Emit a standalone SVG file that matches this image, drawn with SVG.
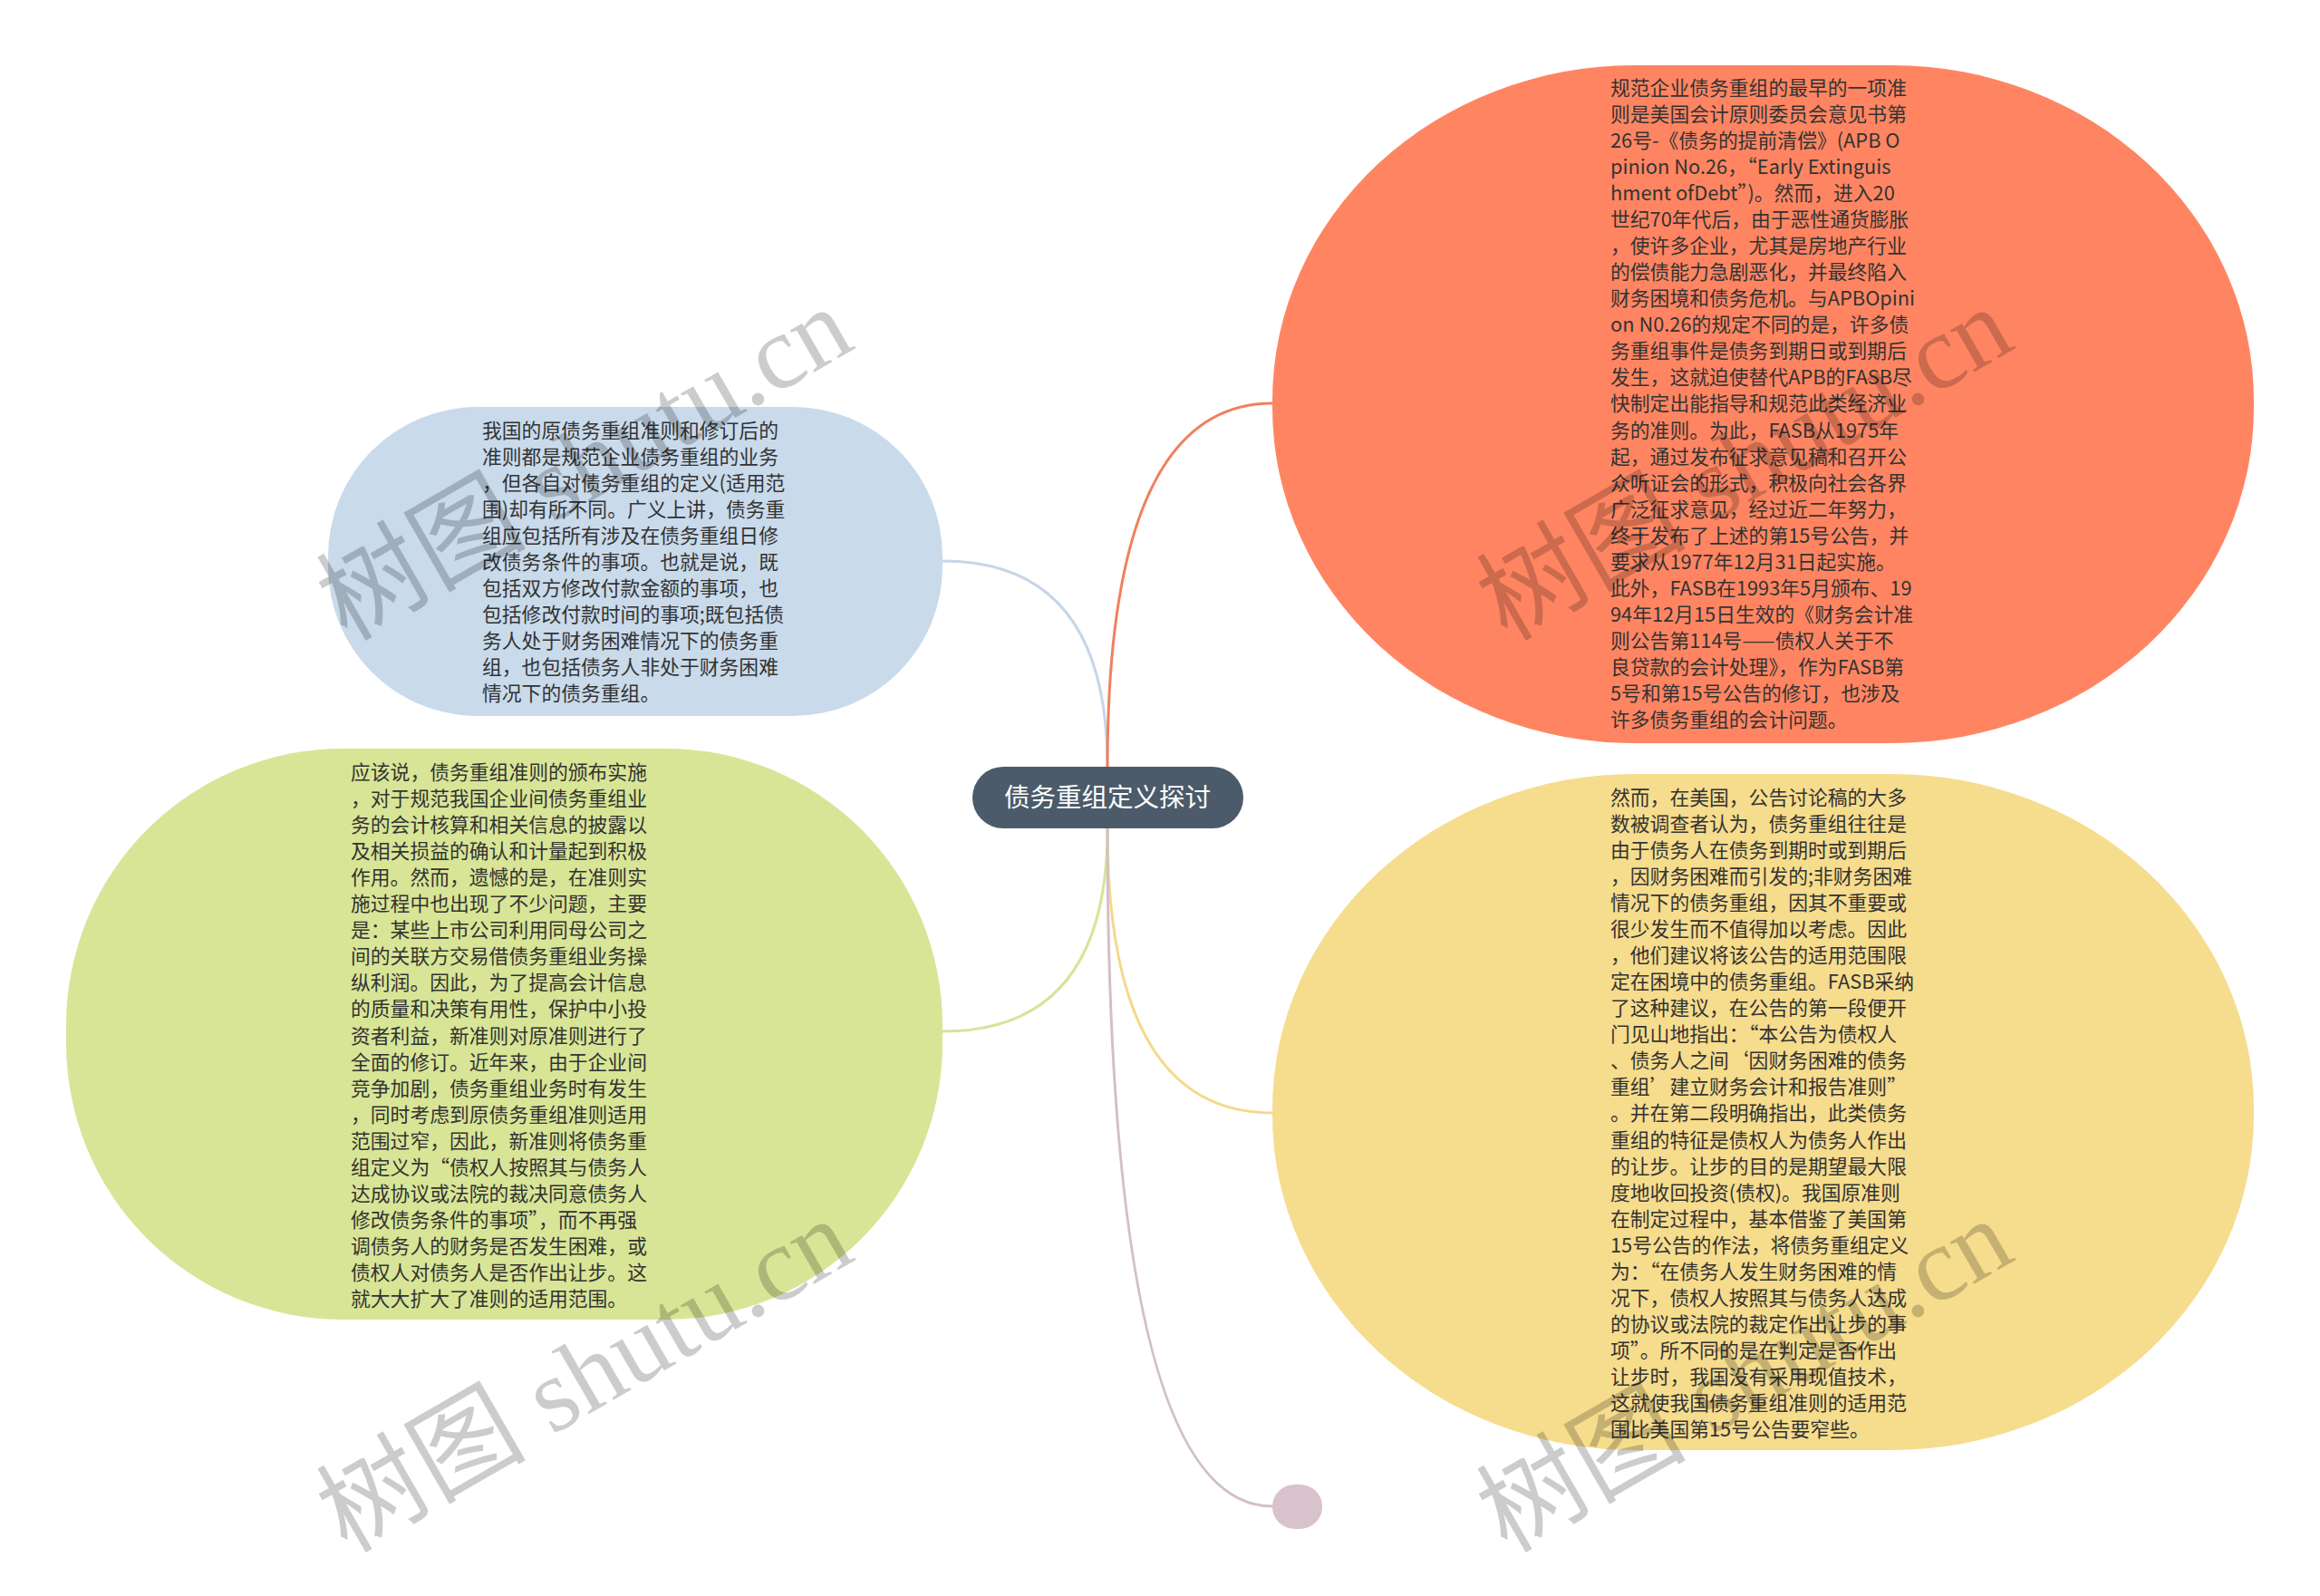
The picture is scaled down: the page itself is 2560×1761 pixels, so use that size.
<svg xmlns="http://www.w3.org/2000/svg" width="2560" height="1761" viewBox="0 0 2560 1761">
<style>
.t{font-family:"Noto Sans CJK SC","Liberation Sans",sans-serif;font-size:21.8px;fill:#333333}
.c{font-family:"Noto Sans CJK SC","Liberation Sans",sans-serif;font-size:28.5px;fill:#ffffff}
.ln{fill:none;stroke-width:3;stroke-linecap:round}
.wm{font-family:"Liberation Serif","Noto Sans CJK SC",serif;font-size:116px;fill:#000000;fill-opacity:0.2}
</style>
<rect width="2560" height="1761" fill="#ffffff"/>
<g id="connectors">
<path class="ln" stroke="#C5D6E8" d="M1222,846 Q1222,619 1040,619"/>
<path class="ln" stroke="#F0805F" d="M1222,846 Q1222,445 1404,445"/>
<path class="ln" stroke="#D6E49A" d="M1222,914 Q1222,1138 1040,1138"/>
<path class="ln" stroke="#F4D98C" d="M1222,914 Q1222,1228 1404,1228"/>
<path class="ln" stroke="#D3BFC9" d="M1222,914 Q1222,1662 1404,1662"/>
</g>
<g id="node-blue">
<rect x="362" y="449" width="678" height="341" rx="165" ry="165" fill="#C9DAEB"/>
<text class="t" x="532" y="483"><tspan x="532">我国的原债务重组准则和修订后的</tspan><tspan x="532" dy="29">准则都是规范企业债务重组的业务</tspan><tspan x="532" dy="29">，但各自对债务重组的定义(适用范</tspan><tspan x="532" dy="29">围)却有所不同。广义上讲，债务重</tspan><tspan x="532" dy="29">组应包括所有涉及在债务重组日修</tspan><tspan x="532" dy="29">改债务条件的事项。也就是说，既</tspan><tspan x="532" dy="29">包括双方修改付款金额的事项，也</tspan><tspan x="532" dy="29">包括修改付款时间的事项;既包括债</tspan><tspan x="532" dy="29">务人处于财务困难情况下的债务重</tspan><tspan x="532" dy="29">组，也包括债务人非处于财务困难</tspan><tspan x="532" dy="29">情况下的债务重组。</tspan></text>
</g>
<g id="node-green">
<rect x="73" y="826" width="967" height="630" rx="305" ry="305" fill="#D8E596"/>
<text class="t" x="387" y="860"><tspan x="387">应该说，债务重组准则的颁布实施</tspan><tspan x="387" dy="29.05">，对于规范我国企业间债务重组业</tspan><tspan x="387" dy="29.05">务的会计核算和相关信息的披露以</tspan><tspan x="387" dy="29.05">及相关损益的确认和计量起到积极</tspan><tspan x="387" dy="29.05">作用。然而，遗憾的是，在准则实</tspan><tspan x="387" dy="29.05">施过程中也出现了不少问题，主要</tspan><tspan x="387" dy="29.05">是：某些上市公司利用同母公司之</tspan><tspan x="387" dy="29.05">间的关联方交易借债务重组业务操</tspan><tspan x="387" dy="29.05">纵利润。因此，为了提高会计信息</tspan><tspan x="387" dy="29.05">的质量和决策有用性，保护中小投</tspan><tspan x="387" dy="29.05">资者利益，新准则对原准则进行了</tspan><tspan x="387" dy="29.05">全面的修订。近年来，由于企业间</tspan><tspan x="387" dy="29.05">竞争加剧，债务重组业务时有发生</tspan><tspan x="387" dy="29.05">，同时考虑到原债务重组准则适用</tspan><tspan x="387" dy="29.05">范围过窄，因此，新准则将债务重</tspan><tspan x="387" dy="29.05">组定义为“债权人按照其与债务人</tspan><tspan x="387" dy="29.05">达成协议或法院的裁决同意债务人</tspan><tspan x="387" dy="29.05">修改债务条件的事项”，而不再强</tspan><tspan x="387" dy="29.05">调债务人的财务是否发生困难，或</tspan><tspan x="387" dy="29.05">债权人对债务人是否作出让步。这</tspan><tspan x="387" dy="29.05">就大大扩大了准则的适用范围。</tspan></text>
</g>
<g id="node-orange">
<rect x="1404" y="72" width="1083" height="748" rx="400" ry="370" fill="#FF8562"/>
<text class="t" x="1777" y="105"><tspan x="1777">规范企业债务重组的最早的一项准</tspan><tspan x="1777" dy="29.04">则是美国会计原则委员会意见书第</tspan><tspan x="1777" dy="29.04">26号-《债务的提前清偿》(APB O</tspan><tspan x="1777" dy="29.04">pinion No.26，“Early Extinguis</tspan><tspan x="1777" dy="29.04">hment ofDebt”)。然而，进入20</tspan><tspan x="1777" dy="29.04">世纪70年代后，由于恶性通货膨胀</tspan><tspan x="1777" dy="29.04">，使许多企业，尤其是房地产行业</tspan><tspan x="1777" dy="29.04">的偿债能力急剧恶化，并最终陷入</tspan><tspan x="1777" dy="29.04">财务困境和债务危机。与APBOpini</tspan><tspan x="1777" dy="29.04">on N0.26的规定不同的是，许多债</tspan><tspan x="1777" dy="29.04">务重组事件是债务到期日或到期后</tspan><tspan x="1777" dy="29.04">发生，这就迫使替代APB的FASB尽</tspan><tspan x="1777" dy="29.04">快制定出能指导和规范此类经济业</tspan><tspan x="1777" dy="29.04">务的准则。为此，FASB从1975年</tspan><tspan x="1777" dy="29.04">起，通过发布征求意见稿和召开公</tspan><tspan x="1777" dy="29.04">众听证会的形式，积极向社会各界</tspan><tspan x="1777" dy="29.04">广泛征求意见，经过近二年努力，</tspan><tspan x="1777" dy="29.04">终于发布了上述的第15号公告，并</tspan><tspan x="1777" dy="29.04">要求从1977年12月31日起实施。</tspan><tspan x="1777" dy="29.04">此外，FASB在1993年5月颁布、19</tspan><tspan x="1777" dy="29.04">94年12月15日生效的《财务会计准</tspan><tspan x="1777" dy="29.04">则公告第114号——债权人关于不</tspan><tspan x="1777" dy="29.04">良贷款的会计处理》，作为FASB第</tspan><tspan x="1777" dy="29.04">5号和第15号公告的修订，也涉及</tspan><tspan x="1777" dy="29.04">许多债务重组的会计问题。</tspan></text>
</g>
<g id="node-yellow">
<rect x="1404" y="854" width="1083" height="746" rx="400" ry="370" fill="#F6DC8D"/>
<text class="t" x="1777" y="888"><tspan x="1777">然而，在美国，公告讨论稿的大多</tspan><tspan x="1777" dy="29.04">数被调查者认为，债务重组往往是</tspan><tspan x="1777" dy="29.04">由于债务人在债务到期时或到期后</tspan><tspan x="1777" dy="29.04">，因财务困难而引发的;非财务困难</tspan><tspan x="1777" dy="29.04">情况下的债务重组，因其不重要或</tspan><tspan x="1777" dy="29.04">很少发生而不值得加以考虑。因此</tspan><tspan x="1777" dy="29.04">，他们建议将该公告的适用范围限</tspan><tspan x="1777" dy="29.04">定在困境中的债务重组。FASB采纳</tspan><tspan x="1777" dy="29.04">了这种建议，在公告的第一段便开</tspan><tspan x="1777" dy="29.04">门见山地指出：“本公告为债权人</tspan><tspan x="1777" dy="29.04">、债务人之间‘因财务困难的债务</tspan><tspan x="1777" dy="29.04">重组’建立财务会计和报告准则”</tspan><tspan x="1777" dy="29.04">。并在第二段明确指出，此类债务</tspan><tspan x="1777" dy="29.04">重组的特征是债权人为债务人作出</tspan><tspan x="1777" dy="29.04">的让步。让步的目的是期望最大限</tspan><tspan x="1777" dy="29.04">度地收回投资(债权)。我国原准则</tspan><tspan x="1777" dy="29.04">在制定过程中，基本借鉴了美国第</tspan><tspan x="1777" dy="29.04">15号公告的作法，将债务重组定义</tspan><tspan x="1777" dy="29.04">为：“在债务人发生财务困难的情</tspan><tspan x="1777" dy="29.04">况下，债权人按照其与债务人达成</tspan><tspan x="1777" dy="29.04">的协议或法院的裁定作出让步的事</tspan><tspan x="1777" dy="29.04">项”。所不同的是在判定是否作出</tspan><tspan x="1777" dy="29.04">让步时，我国没有采用现值技术，</tspan><tspan x="1777" dy="29.04">这就使我国债务重组准则的适用范</tspan><tspan x="1777" dy="29.04">围比美国第15号公告要窄些。</tspan></text>
</g>
<g id="node-purple">
<rect x="1404" y="1638" width="55" height="49" rx="25" ry="24" fill="#D8C2CC"/>
</g>
<g id="node-center">
<rect x="1073" y="846" width="299" height="68" rx="34" ry="34" fill="#4B5B6A"/>
<text class="c" x="1222" y="890" text-anchor="middle">债务重组定义探讨</text>
</g>
<g id="watermarks">
<text class="wm" x="645" y="512" text-anchor="middle" dominant-baseline="central" transform="rotate(-30 645 512)">树图 shutu.cn</text>
<text class="wm" x="645" y="1518" text-anchor="middle" dominant-baseline="central" transform="rotate(-30 645 1518)">树图 shutu.cn</text>
<text class="wm" x="1925" y="512" text-anchor="middle" dominant-baseline="central" transform="rotate(-30 1925 512)">树图 shutu.cn</text>
<text class="wm" x="1925" y="1518" text-anchor="middle" dominant-baseline="central" transform="rotate(-30 1925 1518)">树图 shutu.cn</text>
</g>
</svg>
